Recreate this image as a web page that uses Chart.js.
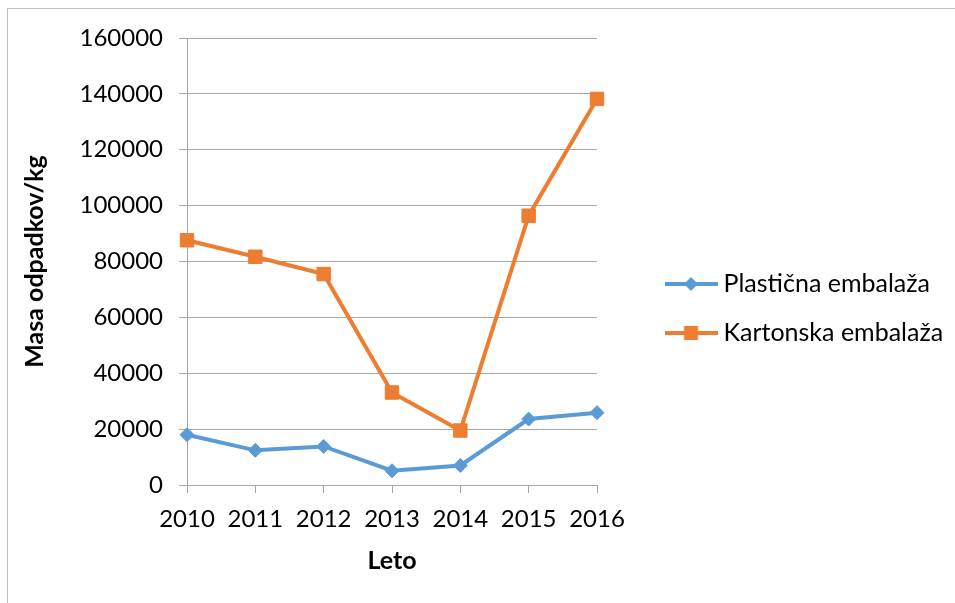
<!doctype html>
<html lang="sl">
<head>
  <meta charset="utf-8">
  <title>Masa odpadkov</title>
  <style>
    html, body { margin: 0; padding: 0; background: #fff; }
    #wrap { position: relative; width: 955px; height: 603px; overflow: hidden; }
    #frame { position: absolute; left: 7px; top: 8px; width: 2000px; height: 2000px;
             border-left: 1px solid #bfbfbf; border-top: 1px solid #bfbfbf; }
    canvas { position: absolute; left: 0; top: 0; }
  </style>
</head>
<body>
  <div id="wrap">
    <div id="frame"></div>
    <canvas id="chart" width="955" height="603"></canvas>
  </div>

  <script src="https://cdn.jsdelivr.net/npm/chart.js"></script>
  <script>
    // podatki
    const leta = ['2010', '2011', '2012', '2013', '2014', '2015', '2016'];
    const plasticna = [18000, 12400, 13800, 5100, 7000, 23600, 25900];
    const kartonska = [87600, 81700, 75500, 33100, 19500, 96400, 138200];
    const imena = ['Plastična embalaža', 'Kartonska embalaža'];
    const yTicks = [0, 20000, 40000, 60000, 80000, 100000, 120000, 140000, 160000];

    const modra = '#5b9bd5';
    const oranzna = '#ed7d31';
    const siva = '#a6a6a6';
    const pisava = 'Lato';
    const velikost = 25;     // legenda in naslovi osi
    const velikostOzn = 24;  // oznake na oseh

    // ikona za legendo: crta z markerjem na sredini
    function ikona(barva, oblika) {
      const c = document.createElement('canvas');
      c.width = 53; c.height = 18;
      const ctx = c.getContext('2d');
      ctx.strokeStyle = barva;
      ctx.fillStyle = barva;
      ctx.lineWidth = 4;
      ctx.beginPath();
      ctx.moveTo(0, 9); ctx.lineTo(53, 9);
      ctx.stroke();
      ctx.beginPath();
      if (oblika === 'romb') {
        ctx.moveTo(26.5, 2); ctx.lineTo(33.5, 9); ctx.lineTo(26.5, 16); ctx.lineTo(19.5, 9);
      } else {
        ctx.rect(19.5, 2, 14, 14);
      }
      ctx.fill();
      return c;
    }
    const ikone = [ikona(modra, 'romb'), ikona(oranzna, 'kvadrat')];

    // sirina legende, da pride na pravo mesto
    const mctx = document.createElement('canvas').getContext('2d');
    mctx.font = velikost + 'px ' + pisava;
    const tekstW = Math.max(...imena.map(n => mctx.measureText(n).width));
    const legPad = 24, legBox = 40;
    const legW = legPad + legBox + velikost / 2 + tekstW + 10;
    const legZeljena = 308;
    const desno = Math.max(0, legZeljena - legW);

    const data = {
      labels: leta,
      datasets: [{
        label: imena[0],
        data: plasticna,
        borderColor: modra,
        backgroundColor: modra,
        borderWidth: 4,
        pointStyle: 'rectRot',
        pointRadius: 7,
        pointBorderWidth: 1,
        pointHoverRadius: 7,
        tension: 0
      }, {
        label: imena[1],
        data: kartonska,
        borderColor: oranzna,
        backgroundColor: oranzna,
        borderWidth: 4,
        pointStyle: 'rect',
        pointRadius: 9.5,
        pointBorderWidth: 1,
        pointHoverRadius: 9.5,
        tension: 0
      }]
    };

    const config = {
      type: 'line',
      data,
      options: {
        responsive: false,
        animation: false,
        devicePixelRatio: 1,
        layout: { padding: { top: 38, left: 0, right: desno, bottom: 24 } },
        plugins: {
          tooltip: { enabled: false },
          legend: {
            position: 'right',
            maxWidth: legZeljena,
            labels: {
              usePointStyle: true,
              pointStyleWidth: legBox,
              padding: legPad,
              color: '#000',
              font: { family: pisava, size: velikost },
              generateLabels(chart) {
                const items = Chart.defaults.plugins.legend.labels.generateLabels(chart);
                items.forEach(it => { it.pointStyle = ikone[it.datasetIndex]; });
                return items;
              }
            }
          }
        },
        scales: {
          x: {
            grid: { drawOnChartArea: false, color: siva, tickLength: 8 },
            border: { color: siva },
            ticks: { color: '#000', font: { family: pisava, size: velikostOzn }, padding: 12, maxRotation: 0 },
            title: {
              display: true, text: 'Leto', color: '#000',
              font: { family: pisava, size: velikost, weight: 'bold' },
              padding: { top: 0, bottom: 3 }
            },
            afterFit(s) { s.height = 94; }
          },
          y: {
            min: 0,
            max: 160000,
            afterBuildTicks(s) { s.ticks = yTicks.map(v => ({ value: v })); },
            grid: { color: siva, tickLength: 8 },
            border: { color: siva },
            ticks: {
              color: '#000', font: { family: pisava, size: velikostOzn }, padding: 16,
              callback: v => String(v)
            },
            title: {
              display: true, text: 'Masa odpadkov/kg', color: '#000',
              font: { family: pisava, size: velikost, weight: 'bold' },
              padding: { top: 20, bottom: 0 }
            },
            afterFit(s) { s.width = 187; }
          },
          // prazen prostor med grafom in legendo
          y2: {
            type: 'linear',
            position: 'right',
            display: true,
            grid: { display: false },
            ticks: { display: false },
            border: { display: false },
            afterFit(s) { s.width = 50; }
          }
        }
      }
    };

    new Chart(document.getElementById('chart'), config);
  </script>
</body>
</html>
